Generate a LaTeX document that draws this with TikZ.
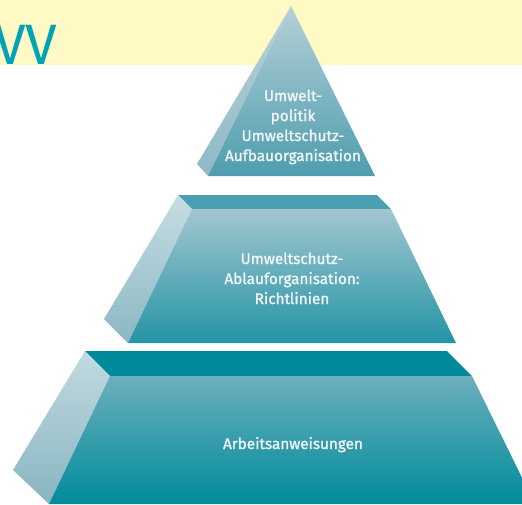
\documentclass[tikz,border=0pt]{standalone}
\usepackage{fontspec}
\setmainfont{Fira Sans}[AutoFakeBold=1.4]
\definecolor{bgyellow}{HTML}{FFF9C6}
\definecolor{titleteal}{HTML}{00A3B6}
\definecolor{txtwhite}{HTML}{F0F6F7}
\definecolor{triTop}{HTML}{B5D0D8}
\definecolor{triBot}{HTML}{4E9DAE}
\definecolor{triSideTop}{HTML}{B8D2DA}
\definecolor{triSideBot}{HTML}{8FB9C5}
\definecolor{midCap}{HTML}{4AA0B2}
\definecolor{midTop}{HTML}{A3C6D0}
\definecolor{midBot}{HTML}{2394A6}
\definecolor{midSideTop}{HTML}{C7DDE3}
\definecolor{midSideBot}{HTML}{8BB7C3}
\definecolor{lowCap}{HTML}{00899A}
\definecolor{lowTop}{HTML}{6CAFBD}
\definecolor{lowMid}{HTML}{0396A8}
\definecolor{lowBot}{HTML}{008B9B}
\definecolor{lowSideTop}{HTML}{C3DAE0}
\definecolor{lowSideBot}{HTML}{86B5C1}
\tikzset{
  label/.style={text=txtwhite, align=center, inner sep=0pt, font=\fontsize{15.3}{20}\selectfont\bfseries},
}
\begin{document}
\begin{tikzpicture}[x=1pt,y=-1pt]
\useasboundingbox (0,0) rectangle (522,504);
\begin{scope}
\clip (0,0) rectangle (522,504);
% header band
\fill[bgyellow] (0,0) rectangle (522,65);
\node[anchor=base west, inner sep=0pt, text=titleteal, font=\fontsize{57}{57}\selectfont] (title) at (-6,64) {VV};
% top triangle
\shade[top color=triSideTop, bottom color=triSideBot] (291,6) -- (197,164) -- (208,176) -- cycle;
\shade[top color=triTop, bottom color=triBot] (291,6) -- (375,176) -- (208,176) -- cycle;
% middle trapezoid
\fill[midCap] (178,195) -- (377,195) -- (391,209) -- (192,209) -- cycle;
\shade[top color=midSideTop, bottom color=midSideBot] (178,195) -- (192,209) -- (128,343) -- (104,319) -- cycle;
\shade[top color=midTop, bottom color=midBot] (192,209) -- (391,209) -- (456,343) -- (128,343) -- cycle;
% bottom trapezoid
\fill[lowCap] (85,351) -- (447,351) -- (472,376) -- (110,376) -- cycle;
\shade[top color=lowSideTop, bottom color=lowSideBot] (85,351) -- (110,376) -- (49,504) -- (13,470) -- cycle;
\shade[top color=lowTop, middle color=lowMid, bottom color=lowBot] (110,376) -- (472,376) -- (535,504) -- (49,504) -- cycle;
\end{scope}
% labels
\node[label, anchor=base] (t1) at (293,161) {Umwelt-\\politik\\Umweltschutz-\\Aufbauorganisation};
\node[label, anchor=base] (t2) at (292,304) {Umweltschutz-\\Ablauforganisation:\\Richtlinien};
\node[label, anchor=base] (t3) at (293,449) {Arbeitsanweisungen};
\end{tikzpicture}
\end{document}
